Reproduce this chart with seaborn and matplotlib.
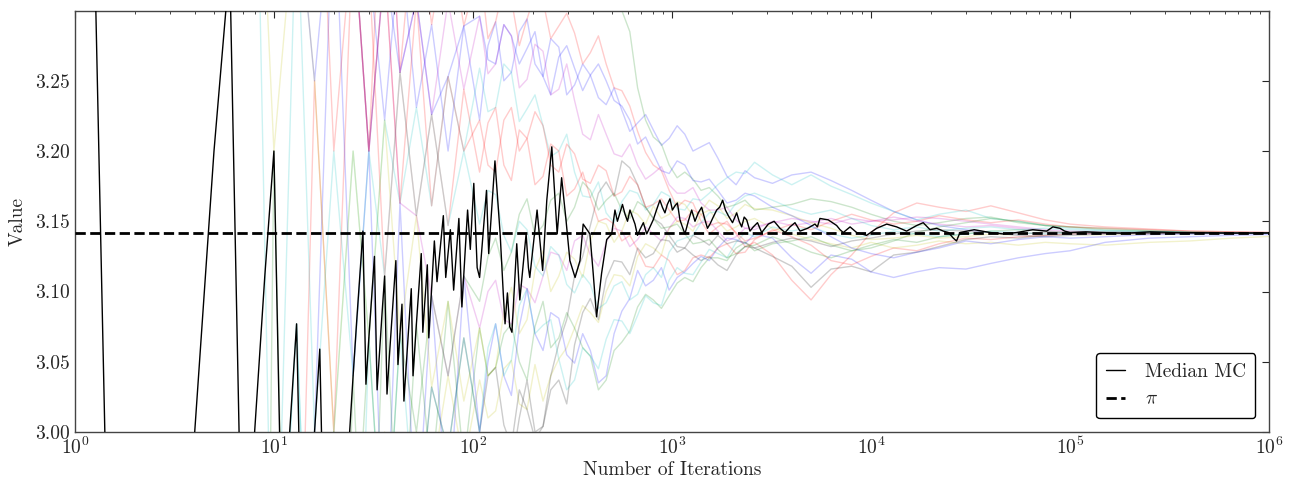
import numpy as np
import pandas as pd
import matplotlib
matplotlib.use("Agg")
import matplotlib.pyplot as plt
import seaborn as sns

# ---------------- data ----------------
iterations = [8, 10, 13, 16, 20, 25, 30, 36, 43, 52, 62, 75, 90, 108, 130, 156, 187, 225,
              270, 324, 389, 467, 560, 672, 806, 968, 1160, 1400, 1700, 2100, 2600, 3200,
              4000, 5000, 6300, 8000, 10000, 13000, 17000, 22000, 30000, 40000, 55000,
              75000, 100000, 150000, 250000, 400000, 650000, 1000000]
# extra wiggle points of each run between 100 and 2600 iterations
iterations_mid = [119, 143, 171, 205, 246, 296, 356, 427, 512, 614, 737, 885, 1062, 1275,
                  1540, 1890, 2330]

run_colors = ['b', 'g', 'r', 'c', 'm', 'y', 'k', 'b', 'g', 'r', 'c', 'm', 'y', 'k',
              'b', 'g', 'r', 'c']

run_01 = [3.5, 3.4, 3.385, 3.375, 3.4, 3.36, 3.333, 3.222, 3.349, 3.231, 3.290, 3.2, 3.289, 3.222,
          3.292, 3.256, 3.294, 3.253, 3.274, 3.247, 3.254, 3.233, 3.229, 3.220, 3.215, 3.209,
          3.212, 3.203, 3.195, 3.176, 3.181, 3.177, 3.183, 3.185, 3.179, 3.172, 3.165, 3.157,
          3.151, 3.147, 3.144, 3.142, 3.140, 3.139, 3.140, 3.141, 3.1415, 3.1412, 3.1414, 3.1415]
run_02 = [3.5, 3.6, 3.385, 3.5, 3.4, 3.36, 3.467, 3.333, 3.442, 3.385, 3.355, 3.413, 3.333, 3.37,
          3.323, 3.359, 3.316, 3.342, 3.319, 3.333, 3.311, 3.34, 3.30, 3.245, 3.21, 3.19, 3.185,
          3.172, 3.168, 3.162, 3.158, 3.16, 3.162, 3.166, 3.164, 3.16, 3.155, 3.15, 3.147, 3.149,
          3.152, 3.153, 3.149, 3.147, 3.146, 3.144, 3.1428, 3.142, 3.1418, 3.1417]
run_03 = [2.5, 2.8, 2.769, 3.25, 3.0, 3.36, 3.2, 3.444, 3.256, 3.385, 3.29, 3.36, 3.289, 3.333,
          3.292, 3.308, 3.294, 3.307, 3.289, 3.284, 3.270, 3.262, 3.243, 3.214, 3.190, 3.172,
          3.165, 3.150, 3.146, 3.141, 3.135, 3.126, 3.108, 3.094, 3.112, 3.126, 3.142, 3.156,
          3.163, 3.160, 3.157, 3.161, 3.156, 3.151, 3.148, 3.146, 3.1445, 3.143, 3.1425, 3.142]
run_04 = [3.0, 2.8, 3.077, 2.75, 3.0, 3.2, 3.067, 3.222, 3.163, 3.231, 3.161, 3.253, 3.2, 3.259,
          3.231, 3.256, 3.230, 3.218, 3.200, 3.185, 3.167, 3.156, 3.164, 3.170, 3.162, 3.168,
          3.158, 3.165, 3.176, 3.185, 3.192, 3.183, 3.176, 3.183, 3.175, 3.169, 3.163, 3.157,
          3.151, 3.155, 3.158, 3.152, 3.150, 3.147, 3.145, 3.1435, 3.143, 3.1424, 3.142, 3.1419]
run_05 = [3.5, 3.6, 3.385, 3.5, 3.4, 3.52, 3.333, 3.444, 3.256, 3.308, 3.226, 3.307, 3.244, 3.296,
          3.262, 3.282, 3.251, 3.271, 3.244, 3.236, 3.208, 3.212, 3.196, 3.190, 3.184, 3.176,
          3.170, 3.163, 3.158, 3.151, 3.146, 3.149, 3.152, 3.150, 3.148, 3.152, 3.150, 3.153,
          3.150, 3.148, 3.146, 3.147, 3.145, 3.143, 3.142, 3.1415, 3.1412, 3.1414, 3.1416, 3.1416]
run_06 = [2.5, 2.8, 2.462, 2.75, 2.6, 2.88, 2.8, 3.0, 2.884, 3.0, 2.968, 3.04, 2.978, 3.037,
          3.015, 3.051, 3.016, 3.022, 3.052, 3.074, 3.085, 3.100, 3.111, 3.125, 3.131, 3.145,
          3.148, 3.155, 3.150, 3.146, 3.152, 3.145, 3.141, 3.137, 3.134, 3.131, 3.135, 3.131,
          3.133, 3.136, 3.134, 3.135, 3.133, 3.135, 3.134, 3.133, 3.135, 3.136, 3.138, 3.1392]
run_07 = [2.0, 2.4, 2.769, 2.5, 2.8, 2.72, 2.933, 2.778, 2.977, 2.923, 3.032, 2.987, 3.067, 3.0,
          3.046, 2.99, 3.016, 3.004, 3.063, 3.111, 3.147, 3.178, 3.193, 3.176, 3.152, 3.140,
          3.131, 3.122, 3.119, 3.126, 3.131, 3.125, 3.118, 3.103, 3.116, 3.118, 3.114, 3.126,
          3.128, 3.132, 3.137, 3.139, 3.138, 3.140, 3.141, 3.1412, 3.1415, 3.1413, 3.1416, 3.1416]
run_08 = [2.5, 2.8, 2.769, 3.0, 3.4, 3.04, 3.2, 2.889, 3.163, 2.923, 3.097, 2.933, 3.111, 3.0,
          3.077, 3.026, 3.102, 3.058, 3.081, 3.049, 3.058, 3.040, 3.086, 3.115, 3.108, 3.101,
          3.114, 3.125, 3.131, 3.137, 3.141, 3.138, 3.124, 3.113, 3.126, 3.123, 3.114, 3.110,
          3.114, 3.117, 3.116, 3.120, 3.124, 3.127, 3.129, 3.135, 3.138, 3.139, 3.140, 3.1406]
run_09 = [2.0, 3.2, 2.462, 3.0, 2.6, 3.04, 2.8, 3.111, 2.884, 3.077, 2.968, 3.093, 2.978, 3.074,
          3.046, 3.077, 3.037, 3.093, 3.067, 3.074, 3.054, 3.037, 3.064, 3.089, 3.094, 3.097,
          3.110, 3.117, 3.124, 3.131, 3.129, 3.134, 3.136, 3.139, 3.133, 3.129, 3.131, 3.136,
          3.142, 3.146, 3.149, 3.152, 3.150, 3.147, 3.146, 3.145, 3.1435, 3.1425, 3.142, 3.1418]
run_10 = [3.5, 3.6, 3.692, 3.5, 3.4, 3.36, 3.333, 3.111, 3.256, 3.154, 3.226, 3.147, 3.244, 3.185,
          3.231, 3.179, 3.209, 3.182, 3.2, 3.173, 3.167, 3.152, 3.136, 3.130, 3.117, 3.122,
          3.115, 3.126, 3.131, 3.127, 3.137, 3.144, 3.139, 3.133, 3.122, 3.119, 3.125, 3.131,
          3.129, 3.134, 3.138, 3.137, 3.139, 3.140, 3.141, 3.1414, 3.1415, 3.1417, 3.1416, 3.1416]
run_11 = [2.5, 2.8, 3.077, 2.75, 3.0, 2.72, 3.067, 2.889, 3.07, 2.923, 3.032, 2.987, 3.067, 3.0,
          3.077, 3.051, 3.102, 3.076, 3.052, 3.037, 3.054, 3.066, 3.079, 3.083, 3.092, 3.108,
          3.113, 3.121, 3.127, 3.135, 3.139, 3.146, 3.143, 3.146, 3.141, 3.138, 3.140, 3.143,
          3.141, 3.139, 3.141, 3.143, 3.142, 3.141, 3.142, 3.1418, 3.1416, 3.1417, 3.1416, 3.1416]
run_12 = [3.5, 3.6, 3.385, 3.5, 3.4, 3.36, 3.2, 3.333, 3.163, 3.154, 3.097, 3.04, 3.111, 3.074,
          3.108, 3.077, 3.102, 3.111, 3.126, 3.136, 3.126, 3.135, 3.143, 3.137, 3.141, 3.145,
          3.152, 3.149, 3.143, 3.139, 3.144, 3.150, 3.147, 3.149, 3.152, 3.148, 3.150, 3.151,
          3.153, 3.152, 3.150, 3.148, 3.146, 3.144, 3.143, 3.1425, 3.1422, 3.142, 3.1418, 3.1417]
run_13 = [3.5, 3.2, 3.385, 3.25, 3.0, 3.2, 3.067, 3.222, 3.07, 3.154, 3.032, 3.093, 3.022, 3.074,
          3.046, 3.103, 3.080, 3.129, 3.111, 3.123, 3.136, 3.148, 3.143, 3.155, 3.161, 3.155,
          3.162, 3.157, 3.161, 3.156, 3.159, 3.158, 3.154, 3.149, 3.145, 3.140, 3.137, 3.138,
          3.140, 3.138, 3.139, 3.141, 3.140, 3.139, 3.140, 3.1405, 3.1408, 3.1412, 3.1414, 3.1415]
run_14 = [2.5, 2.0, 2.462, 2.25, 2.6, 2.56, 2.8, 2.667, 2.884, 2.846, 2.968, 2.88, 2.933, 2.889,
          2.954, 2.974, 3.037, 3.004, 3.037, 3.062, 3.095, 3.109, 3.121, 3.131, 3.127, 3.136,
          3.131, 3.137, 3.140, 3.136, 3.131, 3.135, 3.138, 3.136, 3.132, 3.136, 3.138, 3.141,
          3.143, 3.144, 3.143, 3.142, 3.141, 3.142, 3.1418, 3.1415, 3.1417, 3.1416, 3.1415, 3.1416]
run_15 = [3.5, 3.6, 3.385, 3.25, 3.4, 3.36, 3.2, 3.333, 3.256, 3.308, 3.226, 3.253, 3.289, 3.296,
          3.262, 3.282, 3.273, 3.253, 3.267, 3.259, 3.254, 3.250, 3.232, 3.205, 3.198, 3.184,
          3.190, 3.178, 3.172, 3.165, 3.168, 3.160, 3.154, 3.147, 3.139, 3.131, 3.127, 3.124,
          3.128, 3.131, 3.136, 3.134, 3.137, 3.139, 3.138, 3.139, 3.1405, 3.141, 3.1412, 3.1413]
run_16 = [2.5, 2.4, 2.769, 2.75, 3.0, 2.88, 3.067, 2.889, 3.07, 3.0, 3.097, 3.04, 3.111, 3.093,
          3.138, 3.128, 3.166, 3.147, 3.170, 3.160, 3.172, 3.165, 3.158, 3.164, 3.152, 3.146,
          3.141, 3.135, 3.130, 3.127, 3.133, 3.139, 3.134, 3.128, 3.124, 3.129, 3.133, 3.137,
          3.135, 3.139, 3.141, 3.143, 3.144, 3.143, 3.142, 3.1425, 3.142, 3.1418, 3.1417, 3.1416]
run_17 = [3.5, 3.4, 3.385, 3.5, 3.2, 3.36, 3.2, 3.333, 3.163, 3.308, 3.161, 3.253, 3.2, 3.222,
          3.185, 3.231, 3.209, 3.218, 3.185, 3.198, 3.177, 3.186, 3.171, 3.176, 3.162, 3.158,
          3.151, 3.155, 3.149, 3.142, 3.138, 3.143, 3.148, 3.144, 3.150, 3.155, 3.151, 3.148,
          3.150, 3.154, 3.151, 3.149, 3.151, 3.148, 3.146, 3.145, 3.144, 3.143, 3.1425, 3.1421]
run_18 = [3.5, 2.8, 3.385, 3.0, 3.2, 3.04, 3.2, 3.111, 3.256, 3.154, 3.226, 3.147, 3.2, 3.148,
          3.169, 3.128, 3.144, 3.111, 3.126, 3.099, 3.105, 3.092, 3.107, 3.098, 3.117, 3.128,
          3.138, 3.149, 3.157, 3.163, 3.170, 3.165, 3.159, 3.155, 3.158, 3.152, 3.147, 3.144,
          3.146, 3.143, 3.145, 3.146, 3.144, 3.145, 3.144, 3.143, 3.1425, 3.142, 3.1418, 3.1417]

mid_01 = [3.275, 3.250, 3.285, 3.262, 3.280, 3.240, 3.262, 3.238, 3.245, 3.214, 3.226, 3.204,
          3.218, 3.200, 3.206, 3.182, 3.186]
mid_02 = [3.33, 3.35, 3.32, 3.34, 3.31, 3.34, 3.30, 3.33, 3.31, 3.285, 3.222, 3.205, 3.181,
          3.180, 3.174, 3.160, 3.165]
mid_03 = [3.280, 3.318, 3.275, 3.312, 3.280, 3.298, 3.262, 3.282, 3.245, 3.232, 3.199, 3.186,
          3.160, 3.163, 3.141, 3.150, 3.132]
mid_04 = [3.228, 3.262, 3.221, 3.240, 3.196, 3.212, 3.168, 3.178, 3.149, 3.172, 3.158, 3.171,
          3.159, 3.166, 3.170, 3.181, 3.184]
mid_05 = [3.255, 3.290, 3.245, 3.276, 3.240, 3.262, 3.212, 3.226, 3.198, 3.205, 3.180, 3.189,
          3.170, 3.174, 3.158, 3.160, 3.145]
mid_06 = [3.010, 3.045, 3.020, 3.048, 3.040, 3.060, 3.090, 3.078, 3.112, 3.104, 3.134, 3.126,
          3.150, 3.143, 3.158, 3.143, 3.150]
mid_07 = [3.040, 3.005, 3.030, 2.995, 3.040, 3.080, 3.125, 3.170, 3.168, 3.188, 3.160, 3.148,
          3.132, 3.126, 3.125, 3.115, 3.132]
mid_08 = [3.050, 3.040, 3.075, 3.070, 3.085, 3.055, 3.070, 3.035, 3.070, 3.095, 3.104, 3.117,
          3.110, 3.120, 3.122, 3.138, 3.134]
mid_09 = [3.040, 3.070, 3.050, 3.075, 3.060, 3.085, 3.060, 3.030, 3.058, 3.072, 3.098, 3.088,
          3.106, 3.107, 3.124, 3.122, 3.135]
mid_10 = [3.220, 3.190, 3.215, 3.176, 3.205, 3.168, 3.185, 3.150, 3.148, 3.140, 3.118, 3.126,
          3.112, 3.124, 3.124, 3.134, 3.128]
mid_11 = [3.060, 3.040, 3.090, 3.070, 3.080, 3.030, 3.060, 3.045, 3.080, 3.070, 3.097, 3.090,
          3.117, 3.112, 3.130, 3.124, 3.142]
mid_12 = [3.100, 3.080, 3.105, 3.092, 3.128, 3.115, 3.140, 3.118, 3.145, 3.132, 3.146, 3.136,
          3.153, 3.146, 3.150, 3.136, 3.145]
mid_13 = [3.040, 3.085, 3.070, 3.115, 3.100, 3.128, 3.110, 3.150, 3.135, 3.158, 3.148, 3.152,
          3.164, 3.154, 3.165, 3.152, 3.162]
mid_14 = [2.940, 2.930, 3.010, 3.000, 3.030, 3.020, 3.085, 3.080, 3.122, 3.112, 3.124, 3.137,
          3.128, 3.140, 3.133, 3.134, 3.135]
mid_15 = [3.265, 3.290, 3.262, 3.285, 3.240, 3.275, 3.243, 3.262, 3.236, 3.222, 3.210, 3.186,
          3.193, 3.179, 3.180, 3.163, 3.170]
mid_16 = [3.125, 3.115, 3.155, 3.140, 3.165, 3.150, 3.178, 3.158, 3.170, 3.152, 3.160, 3.145,
          3.148, 3.134, 3.137, 3.124, 3.132]
mid_17 = [3.190, 3.222, 3.200, 3.228, 3.190, 3.205, 3.180, 3.190, 3.168, 3.182, 3.160, 3.166,
          3.150, 3.158, 3.147, 3.148, 3.136]
mid_18 = [3.172, 3.140, 3.150, 3.118, 3.132, 3.105, 3.112, 3.088, 3.104, 3.094, 3.112, 3.110,
          3.136, 3.140, 3.156, 3.154, 3.168]

median_iterations = list(range(1, 61)) + [
    64, 66, 71, 73, 77, 80, 85, 88, 94, 97, 101, 105, 108, 117, 120, 129, 137, 142, 145, 149,
    153, 157, 166, 172, 185, 190, 193, 210, 224, 235, 249, 265, 279, 293, 307, 326, 345, 358,
    387, 402, 418, 443, 470, 498, 517, 548, 581, 615, 652, 690, 747, 805, 870, 922, 977, 1035,
    1097, 1162, 1256, 1356, 1465, 1552, 1677, 1798, 1919, 2114, 2240, 2374, 2562, 2824, 3048,
    3490, 3917, 4400, 5230, 5540, 6720, 7260, 8470, 10680, 13460, 16970, 19800, 23080, 25920,
    27990, 39630, 53950, 76330, 89060, 100000, 141500, 252600, 449800, 1000000]
median_values = [
    4.0, 2.0, 2.667, 3.0, 3.2, 3.333, 2.857, 3.0, 3.111, 3.2,
    2.909, 3.0, 3.077, 2.857, 2.933, 3.0, 3.059, 2.889, 2.947, 2.8,
    2.857, 2.909, 2.957, 3.0, 3.04, 3.077, 3.111, 3.143, 3.034, 3.067,
    3.097, 3.125, 3.030, 3.059, 3.086, 3.111, 3.027, 3.053, 3.077, 3.1,
    3.122, 3.048, 3.070, 3.091, 3.022, 3.043, 3.064, 3.083, 3.102, 3.04,
    3.059, 3.077, 3.094, 3.111, 3.127, 3.071, 3.088, 3.103, 3.119, 3.067,
    3.136, 3.107, 3.154, 3.110, 3.144, 3.101, 3.152, 3.089, 3.158, 3.130, 3.177, 3.117, 3.110,
    3.172, 3.127, 3.193, 3.141, 3.099, 3.077, 3.099, 3.075, 3.071, 3.134, 3.094, 3.141, 3.117,
    3.110, 3.158, 3.115, 3.165, 3.203, 3.141, 3.181, 3.152, 3.122, 3.110, 3.122, 3.148, 3.141,
    3.113, 3.082, 3.113, 3.137, 3.141, 3.158, 3.156, 3.155, 3.158, 3.148, 3.144, 3.141, 3.151,
    3.165, 3.156, 3.166, 3.161, 3.151, 3.141, 3.158, 3.156, 3.151, 3.148, 3.158, 3.165, 3.154,
    3.156, 3.146, 3.151, 3.146, 3.142, 3.148, 3.145, 3.146, 3.143, 3.148, 3.152, 3.147, 3.142,
    3.142, 3.145, 3.146, 3.147, 3.144, 3.143, 3.138, 3.142, 3.142, 3.142, 3.143, 3.145, 3.142,
    3.142, 3.1425, 3.1418, 3.1417]
# finer jitter of the median line
median_extra_iterations = [532, 564, 598, 633, 671, 718, 775, 836, 895, 948, 1005, 1065, 1128,
                           1208, 1305, 1410, 1508, 1612, 1736, 1856, 2015, 2176, 2306, 2466,
                           2690, 2935, 3260, 3700, 4150, 4800, 5380, 6100, 6990, 7850, 9500,
                           12000, 15100, 18300, 21400, 24500, 26900, 33000, 46000, 65000,
                           82000, 94000, 120000, 190000, 340000, 650000]
median_extra_values = [3.150, 3.162, 3.150, 3.153, 3.140, 3.149, 3.146, 3.158, 3.160, 3.162,
                       3.158, 3.163, 3.146, 3.150, 3.150, 3.160, 3.145, 3.153, 3.160, 3.158,
                       3.149, 3.150, 3.153, 3.143, 3.149, 3.145, 3.150, 3.142, 3.149, 3.145,
                       3.146, 3.151, 3.144, 3.146, 3.140, 3.148, 3.143, 3.149, 3.145, 3.142,
                       3.136, 3.144, 3.141, 3.144, 3.146, 3.143, 3.1425, 3.1415, 3.142, 3.1416]

PI = 3.14159265
y_ticks = [3.00, 3.05, 3.10, 3.15, 3.20, 3.25]
y_limits = (3.0, 3.3)
x_limits = (1, 1e6)

# ---------------- style ----------------
sns.set_style("white")
plt.rcParams['font.family'] = ['cmr10', 'DejaVu Serif']
plt.rcParams['mathtext.fontset'] = 'cm'
plt.rcParams['axes.unicode_minus'] = False
plt.rcParams['axes.formatter.use_mathtext'] = True

fig = plt.figure(figsize=(12.91, 4.80), dpi=100)
ax = fig.add_axes([0.058, 0.10, 0.925, 0.878])

runs = [run_01, run_02, run_03, run_04, run_05, run_06, run_07, run_08, run_09,
        run_10, run_11, run_12, run_13, run_14, run_15, run_16, run_17, run_18]
mids = [mid_01, mid_02, mid_03, mid_04, mid_05, mid_06, mid_07, mid_08, mid_09,
        mid_10, mid_11, mid_12, mid_13, mid_14, mid_15, mid_16, mid_17, mid_18]
names = [f"run{i+1}" for i in range(len(runs))]
rows = []
for name, r, m in zip(names, runs, mids):
    for x, v in zip(iterations, r):
        rows.append((x, v, name))
    for x, v in zip(iterations_mid, m):
        rows.append((x, v, name))
df = pd.DataFrame(rows, columns=["Iterations", "Value", "Run"])
sns.lineplot(data=df, x="Iterations", y="Value", hue="Run",
             palette=dict(zip(names, run_colors)), alpha=0.2, linewidth=1.0,
             estimator=None, sort=True, legend=False, ax=ax)

ax.axhline(PI, color='k', linestyle='--', linewidth=2, label=r'$\pi$', zorder=3)
med = pd.DataFrame({"Iterations": median_iterations + median_extra_iterations,
                    "Value": median_values + median_extra_values})
sns.lineplot(data=med, x="Iterations", y="Value", color='k', linewidth=1.0,
             estimator=None, sort=True, label='Median MC', ax=ax, zorder=4)

ax.set_xscale('log')
ax.set_xlim(*x_limits)
ax.set_ylim(*y_limits)
ax.set_yticks(y_ticks)
ax.set_yticklabels([f"{t:.2f}" for t in y_ticks])
ax.set_xlabel("Number of Iterations", fontsize=14, labelpad=2)
ax.set_ylabel("Value", fontsize=14, labelpad=6)

ax.tick_params(which='both', direction='in', top=True, right=True, labelsize=14)
ax.tick_params(which='major', length=5, width=0.8)
ax.tick_params(which='minor', length=2.5, width=0.6)
for s in ax.spines.values():
    s.set_visible(True)
    s.set_color('#444444')
    s.set_linewidth(1.0)

handles, labels = ax.get_legend_handles_labels()
order = [labels.index('Median MC'), labels.index(r'$\pi$')]
leg = ax.legend([handles[i] for i in order], [labels[i] for i in order],
                loc='lower right', fontsize=14, frameon=True, fancybox=True,
                handlelength=1.0, handletextpad=1.0, borderpad=0.5,
                borderaxespad=0.7, labelspacing=0.5)
leg.get_frame().set_edgecolor('k')
leg.get_frame().set_linewidth(1.0)
leg.get_frame().set_alpha(1.0)

fig.savefig("out.png", dpi=100)
